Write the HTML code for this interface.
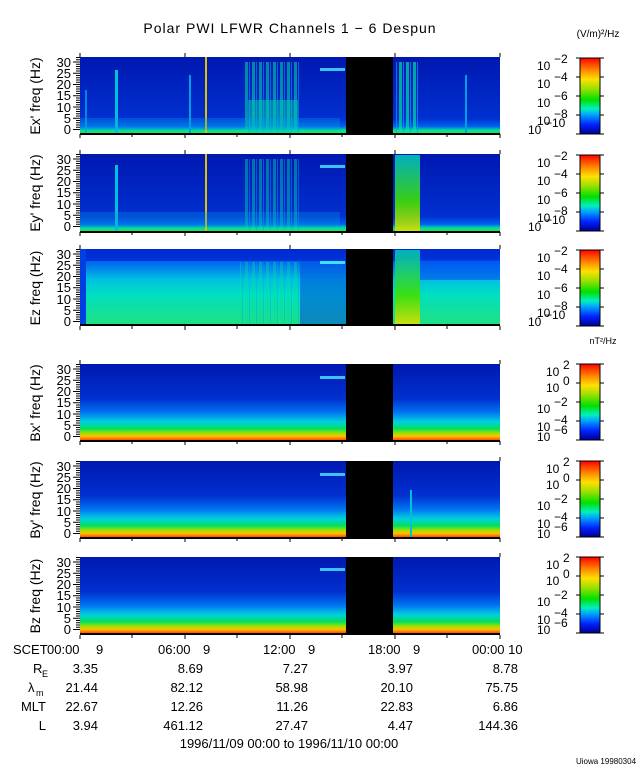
<!DOCTYPE html>
<html><head><meta charset="utf-8"><style>
body{margin:0;background:#fff}
svg{display:block}
text{font-family:"Liberation Sans",sans-serif;fill:#000}
</style></head><body>
<svg width="640" height="768" viewBox="0 0 640 768" xmlns="http://www.w3.org/2000/svg">
<defs>
<linearGradient id="cb" x1="0" y1="1" x2="0" y2="0">
<stop offset="0" stop-color="#000090"/><stop offset="0.12" stop-color="#0020ff"/>
<stop offset="0.25" stop-color="#00a0ff"/><stop offset="0.33" stop-color="#00f0c0"/>
<stop offset="0.45" stop-color="#00e000"/><stop offset="0.6" stop-color="#a0e000"/>
<stop offset="0.72" stop-color="#ffe000"/><stop offset="0.85" stop-color="#ff8000"/>
<stop offset="1" stop-color="#ff0000"/></linearGradient>
<linearGradient id="ebg" x1="0" y1="0" x2="0" y2="1">
<stop offset="0" stop-color="#0018b0"/><stop offset="0.8" stop-color="#0030d0"/>
<stop offset="0.9" stop-color="#0060f0"/><stop offset="0.95" stop-color="#00e0a0"/><stop offset="1" stop-color="#30e030"/></linearGradient>
<linearGradient id="ezbg" x1="0" y1="0" x2="0" y2="1">
<stop offset="0" stop-color="#0030e0"/><stop offset="0.2" stop-color="#0070f0"/>
<stop offset="0.4" stop-color="#00c0e0"/><stop offset="0.6" stop-color="#00e0c0"/><stop offset="1" stop-color="#20e080"/></linearGradient>
<linearGradient id="bbg" x1="0" y1="0" x2="0" y2="1">
<stop offset="0" stop-color="#0018b0"/><stop offset="0.45" stop-color="#0030d0"/>
<stop offset="0.62" stop-color="#0070f0"/><stop offset="0.75" stop-color="#00d0e0"/>
<stop offset="0.84" stop-color="#00e060"/><stop offset="0.9" stop-color="#a0e000"/>
<stop offset="0.94" stop-color="#ffc000"/><stop offset="1" stop-color="#ff3000"/></linearGradient>
<linearGradient id="burst" x1="0" y1="0" x2="0" y2="1">
<stop offset="0" stop-color="#00a0e0"/><stop offset="0.5" stop-color="#00d0c0"/><stop offset="1" stop-color="#30e040"/></linearGradient>
<linearGradient id="burst2" x1="0" y1="0" x2="0" y2="1">
<stop offset="0" stop-color="#00c0c0"/><stop offset="0.6" stop-color="#40e000"/><stop offset="1" stop-color="#e0e000"/></linearGradient>
<pattern id="str" width="7" height="10" patternUnits="userSpaceOnUse">
<rect width="3" height="10" fill="#00e0a0"/><rect x="4" width="1" height="10" fill="#00a0f0"/></pattern>
<g id="yt">
<path d="M73 129.5h7M73 118.2h7M73 107h7M73 95.7h7M73 84.5h7M73 73.2h7M73 62h7M76 127.2h4M76 125h4M76 122.7h4M76 120.5h4M76 116h4M76 113.7h4M76 111.5h4M76 109.2h4M76 104.7h4M76 102.5h4M76 100.2h4M76 98h4M76 93.5h4M76 91.2h4M76 89h4M76 86.7h4M76 82.2h4M76 80h4M76 77.7h4M76 75.5h4M76 71h4M76 68.7h4M76 66.5h4M76 64.2h4M76 59.7h4M76 57.5h4" stroke="#000" stroke-width="1"/>
<g font-size="13" text-anchor="end"><text x="71" y="134">0</text><text x="71" y="123">5</text><text x="71" y="112">10</text><text x="71" y="100">15</text><text x="71" y="89">20</text><text x="71" y="78">25</text><text x="71" y="67">30</text></g>
</g>
<g id="xt" stroke="#000"><path d="M80 0v4M132 0v3M185 0v4M237 0v3M290 0v4M342 0v3M395 0v4M447 0v3M500 0v4"/></g>
<g id="labE" font-size="12">
<text x="537" y="70">10</text><text x="554" y="63" font-size="12">−2</text>
<text x="537" y="88">10</text><text x="554" y="81" font-size="12">−4</text>
<text x="537" y="107">10</text><text x="554" y="100" font-size="12">−6</text>
<text x="537" y="125">10</text><text x="554" y="118" font-size="12">−8</text>
<text x="528" y="134">10</text><text x="545" y="127" font-size="12">−10</text>
</g>
<g id="cbE">
<rect x="580" y="58" width="20" height="76" fill="url(#cb)" stroke="#000"/>
<path d="M576 58h4M576 77h4M576 96h4M576 115h4M576 134h4M600 58h4M600 77h4M600 96h4M600 115h4M600 134h4" stroke="#000"/>
<use href="#labE"/>
</g>
<g id="cbB">
<rect x="580" y="364" width="20" height="76" fill="url(#cb)" stroke="#000"/>
<path d="M576 364h4M576 383h4M576 402h4M576 421h4M576 440h4M600 364h4M600 383h4M600 402h4M600 421h4M600 440h4" stroke="#000"/>
<g font-size="12">
<text x="546" y="376">10</text><text x="563" y="369">2</text>
<text x="546" y="392">10</text><text x="563" y="385">0</text>
<text x="537" y="413">10</text><text x="554" y="406">−2</text>
<text x="537" y="431">10</text><text x="554" y="424">−4</text>
<text x="537" y="441">10</text><text x="554" y="434">−6</text>
</g>
</g>
</defs>

<text x="290" y="33" font-size="14" text-anchor="middle" letter-spacing="1">Polar PWI LFWR Channels 1 − 6 Despun</text>

<!-- Panel 1 -->
<g>
<rect x="80" y="57" width="420" height="77" fill="url(#ebg)"/>
<rect x="245" y="62" width="55" height="72" fill="url(#str)" opacity="0.55"/>
<rect x="248" y="100" width="50" height="34" fill="#00d0b0" opacity="0.5"/>
<rect x="395" y="62" width="25" height="72" fill="url(#str)" opacity="0.7"/>
<rect x="115" y="70" width="3" height="64" fill="#00c0e0"/>
<rect x="85" y="90" width="2" height="44" fill="#00b0e0" opacity="0.7"/>
<rect x="205" y="57" width="2" height="77" fill="#e0c000"/>
<rect x="189" y="75" width="2" height="59" fill="#00a0e0"/>
<rect x="465" y="75" width="2" height="59" fill="#00a0e0"/>
<rect x="320" y="68" width="25" height="3" fill="#40c0ff"/>
<rect x="80" y="118" width="260" height="12" fill="#00a0e0" opacity="0.3"/>
<rect x="346" y="57" width="47" height="77" fill="#000"/>
<rect x="80" y="133" width="420" height="2" fill="#000"/>
</g>
<!-- Panel 2 -->
<g>
<rect x="80" y="154" width="420" height="78" fill="url(#ebg)"/>
<rect x="245" y="159" width="55" height="73" fill="url(#str)" opacity="0.45"/>
<rect x="395" y="155" width="25" height="77" fill="url(#burst2)" opacity="0.9"/>
<rect x="115" y="165" width="3" height="67" fill="#00c0e0"/>
<rect x="205" y="154" width="2" height="78" fill="#e0c000"/>
<rect x="320" y="165" width="25" height="3" fill="#40c0ff"/>
<rect x="80" y="212" width="260" height="15" fill="#00a0e0" opacity="0.3"/>
<rect x="346" y="154" width="47" height="78" fill="#000"/>
<rect x="80" y="231" width="420" height="2" fill="#000"/>
</g>
<!-- Panel 3 -->
<g>
<rect x="80" y="249" width="420" height="76" fill="url(#ezbg)"/>
<rect x="80" y="249" width="420" height="12" fill="#0028d0" opacity="0.8"/>
<rect x="300" y="261" width="46" height="64" fill="#0050e0" opacity="0.6"/>
<rect x="240" y="262" width="60" height="63" fill="url(#str)" opacity="0.4"/>
<rect x="395" y="250" width="25" height="75" fill="url(#burst2)" opacity="0.9"/>
<rect x="420" y="260" width="80" height="20" fill="#0050f0" opacity="0.6"/>
<rect x="320" y="261" width="25" height="3" fill="#40e0ff"/>
<rect x="80" y="249" width="6" height="76" fill="#0040e0"/>
<rect x="346" y="249" width="47" height="76" fill="#000"/>
<rect x="80" y="324" width="420" height="2" fill="#000"/>
</g>
<!-- Panel 4-6 -->
<g>
<rect x="80" y="364" width="420" height="77" fill="url(#bbg)"/>
<rect x="320" y="376" width="25" height="3" fill="#40c0ff"/>
<rect x="346" y="364" width="47" height="77" fill="#000"/>
<rect x="80" y="440" width="420" height="2" fill="#000"/>
</g>
<g>
<rect x="80" y="461" width="420" height="77" fill="url(#bbg)"/>
<rect x="320" y="473" width="25" height="3" fill="#40c0ff"/>
<rect x="410" y="490" width="2" height="48" fill="#00c0e0"/>
<rect x="346" y="461" width="47" height="77" fill="#000"/>
<rect x="80" y="537" width="420" height="2" fill="#000"/>
</g>
<g>
<rect x="80" y="557" width="420" height="77" fill="url(#bbg)"/>
<rect x="320" y="568" width="25" height="3" fill="#40c0ff"/>
<rect x="346" y="557" width="47" height="77" fill="#000"/>
<rect x="80" y="633" width="420" height="2" fill="#000"/>
</g>

<use href="#yt"/>
<use href="#yt" transform="translate(0,97)"/>
<use href="#yt" transform="translate(0,192)"/>
<use href="#yt" transform="translate(0,307)"/>
<use href="#yt" transform="translate(0,404)"/>
<use href="#yt" transform="translate(0,500)"/>
<g transform="translate(0,134)"><use href="#xt"/></g>
<g transform="translate(0,232)"><use href="#xt"/></g>
<g transform="translate(0,326)"><use href="#xt"/></g>
<g transform="translate(0,441)"><use href="#xt"/></g>
<g transform="translate(0,538)"><use href="#xt"/></g>
<g transform="translate(0,635)"><use href="#xt"/></g>
<path d="M80 57v-4M185 57v-4M290 57v-4M395 57v-4M500 57v-4M80 154v-4M185 154v-4M290 154v-4M395 154v-4M500 154v-4M80 249v-4M290 249v-4M500 249v-4M80 364v-4M500 364v-4M500 461v-4M500 557v-4" stroke="#000"/>

<g font-size="14" text-anchor="middle">
<text transform="translate(40,96) rotate(-90)">Ex' freq (Hz)</text>
<text transform="translate(40,193) rotate(-90)">Ey' freq (Hz)</text>
<text transform="translate(40,288) rotate(-90)">Ez freq (Hz)</text>
<text transform="translate(40,403) rotate(-90)">Bx' freq (Hz)</text>
<text transform="translate(40,500) rotate(-90)">By' freq (Hz)</text>
<text transform="translate(40,596) rotate(-90)">Bz freq (Hz)</text>
</g>

<text x="598" y="37" font-size="10" text-anchor="middle">(V/m)²/Hz</text>
<text x="603" y="344" font-size="9" text-anchor="middle">nT²/Hz</text>
<use href="#cbE"/>
<use href="#cbE" transform="translate(0,97)"/>
<use href="#cbE" transform="translate(0,192)"/>
<use href="#cbB"/>
<use href="#cbB" transform="translate(0,97)"/>
<use href="#cbB" transform="translate(0,193)"/>

<g font-size="13">
<text x="13" y="654">SCET</text>
<text x="47" y="654">00:00</text><text x="96" y="654">9</text>
<text x="158" y="654">06:00</text><text x="203" y="654">9</text>
<text x="263" y="654">12:00</text><text x="308" y="654">9</text>
<text x="368" y="654">18:00</text><text x="413" y="654">9</text>
<text x="472" y="654">00:00 10</text>
<text x="33" y="673">R</text><text x="42" y="677" font-size="9">E</text>
<text x="28" y="692">λ</text><text x="36" y="696" font-size="9">m</text>
<text x="46" y="711" text-anchor="end">MLT</text>
<text x="46" y="730" text-anchor="end">L</text>
<g text-anchor="end">
<text x="98" y="673">3.35</text><text x="203" y="673">8.69</text><text x="308" y="673">7.27</text><text x="413" y="673">3.97</text><text x="518" y="673">8.78</text>
<text x="98" y="692">21.44</text><text x="203" y="692">82.12</text><text x="308" y="692">58.98</text><text x="413" y="692">20.10</text><text x="518" y="692">75.75</text>
<text x="98" y="711">22.67</text><text x="203" y="711">12.26</text><text x="308" y="711">11.26</text><text x="413" y="711">22.83</text><text x="518" y="711">6.86</text>
<text x="98" y="730">3.94</text><text x="203" y="730">461.12</text><text x="308" y="730">27.47</text><text x="413" y="730">4.47</text><text x="518" y="730">144.36</text>
</g>
<text x="289" y="748" text-anchor="middle">1996/11/09 00:00 to 1996/11/10 00:00</text>
</g>
<text x="606" y="764" font-size="8" text-anchor="middle">Uiowa 19980304</text>
</svg>
</body></html>
